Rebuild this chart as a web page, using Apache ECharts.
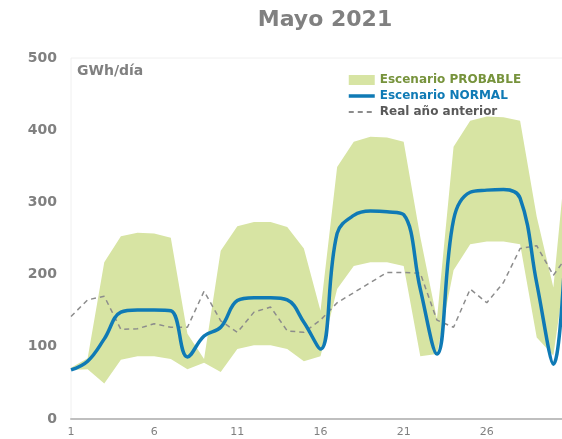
<!DOCTYPE html>
<html lang="es">
<head>
  <meta charset="UTF-8">
  <title>Mayo 2021</title>
  <style>
    body { margin: 0; }
    #main { width: 562px; height: 439px; }
  </style>
</head>
<body>
<div id="main"></div>
<script src="https://cdn.jsdelivr.net/npm/echarts@6/dist/echarts.min.js"></script>
<script>
  // dias del mes
  const days = ['1','2','3','4','5','6','7','8','9','10','11','12','13','14','15','16',
    '17','18','19','20','21','22','23','24','25','26','27','28','29','30','31'];
  // banda escenario probable (max / min)
  const probMax = [71, 84, 217, 253, 258, 257, 251, 118, 83, 233, 267, 273, 273, 266, 236, 150,
    349, 384, 391, 390, 384, 252, 138, 377, 413, 419, 418, 413, 280, 182, 420];
  const probMin = [68, 69, 49, 82, 87, 87, 83, 69, 78, 65, 97, 102, 102, 97, 80, 87,
    180, 212, 217, 217, 212, 87, 90, 206, 242, 246, 246, 242, 113, 88, 250];
  // escenario normal
  const normal = [68, 80, 111, 148, 151, 151, 150, 86, 115, 127, 164, 168, 168, 165, 134, 97,
    257, 282, 288, 287, 283, 180, 90, 276, 314, 317, 318, 306, 188, 76, 400];
  // real año anterior
  const prevYear = [142, 165, 170, 124, 125, 132, 127, 127, 177, 136, 120, 148, 155, 122, 120, 137,
    161, 175, 189, 203, 203, 202, 137, 127, 180, 161, 189, 236, 240, 199, 231];
  const yTicks = [0, 100, 200, 300, 400, 500];

  const GREEN = '#d7e4a3';
  const BLUE = '#0f7ab5';
  const GRAY = '#808080';
  const FONT = 'DejaVu Sans';

  const bandWidth = probMax.map((v, i) => v - probMin[i]);

  const chart = echarts.init(document.getElementById('main'));
  chart.setOption({
    animation: false,
    textStyle: { fontFamily: FONT },
    title: {
      text: 'Mayo 2021',
      left: 320,
      textAlign: 'center',
      top: 4,
      textStyle: { fontSize: 22, fontWeight: 'bold', color: GRAY, fontFamily: FONT }
    },
    legend: {
      orient: 'vertical',
      left: 342,
      top: 69,
      itemWidth: 26,
      itemHeight: 10,
      itemGap: 4,
      textStyle: { fontSize: 12, fontWeight: 'bold', fontFamily: FONT },
      data: [
        { name: 'Escenario PROBABLE', icon: 'rect', textStyle: { color: '#77933c' } },
        // itemStyle opacity 0: oculta el circulo, deja solo la linea
        { name: 'Escenario NORMAL', itemStyle: { opacity: 0 }, lineStyle: { width: 3.5 },
          textStyle: { color: '#0f7ab5' } },
        { name: 'Real año anterior', itemStyle: { opacity: 0 }, textStyle: { color: '#595959' } }
      ]
    },
    graphic: [{
      type: 'text',
      left: 77,
      top: 64,
      style: { text: 'GWh/día', fill: GRAY, font: 'bold 14px "DejaVu Sans"' }
    }],
    grid: {
      left: 71, right: -8, top: 58, bottom: 20,
      outerBoundsMode: 'none',
      show: true, borderColor: '#f0f0f0', borderWidth: 1
    },
    xAxis: {
      type: 'category',
      data: days,
      boundaryGap: false,
      axisLine: { lineStyle: { color: '#bfbfbf', width: 2 } },
      axisTick: { show: false },
      axisLabel: { interval: 4, color: GRAY, fontSize: 11, margin: 8 }
    },
    yAxis: {
      type: 'value',
      min: yTicks[0],
      max: yTicks[yTicks.length - 1],
      interval: 100,
      axisLine: { show: false },
      axisTick: { show: false },
      splitLine: { show: false },
      axisLabel: { color: GRAY, fontSize: 14, fontWeight: 'bold', margin: 14 }
    },
    series: [
      {
        name: 'base',
        type: 'line',
        stack: 'band',
        data: probMin,
        symbol: 'none',
        lineStyle: { opacity: 0 },
        silent: true
      },
      {
        name: 'Escenario PROBABLE',
        type: 'line',
        stack: 'band',
        data: bandWidth,
        symbol: 'none',
        color: GREEN,
        lineStyle: { opacity: 0 },
        areaStyle: { color: GREEN, opacity: 1 }
      },
      {
        name: 'Real año anterior',
        type: 'line',
        data: prevYear,
        symbol: 'none',
        color: '#8c8c8c',
        lineStyle: { color: '#8c8c8c', width: 1.5, type: [5, 4] }
      },
      {
        name: 'Escenario NORMAL',
        type: 'line',
        data: normal,
        symbol: 'none',
        smooth: 0.4,
        color: BLUE,
        lineStyle: { color: BLUE, width: 3.5 }
      }
    ]
  });
</script>
</body>
</html>
